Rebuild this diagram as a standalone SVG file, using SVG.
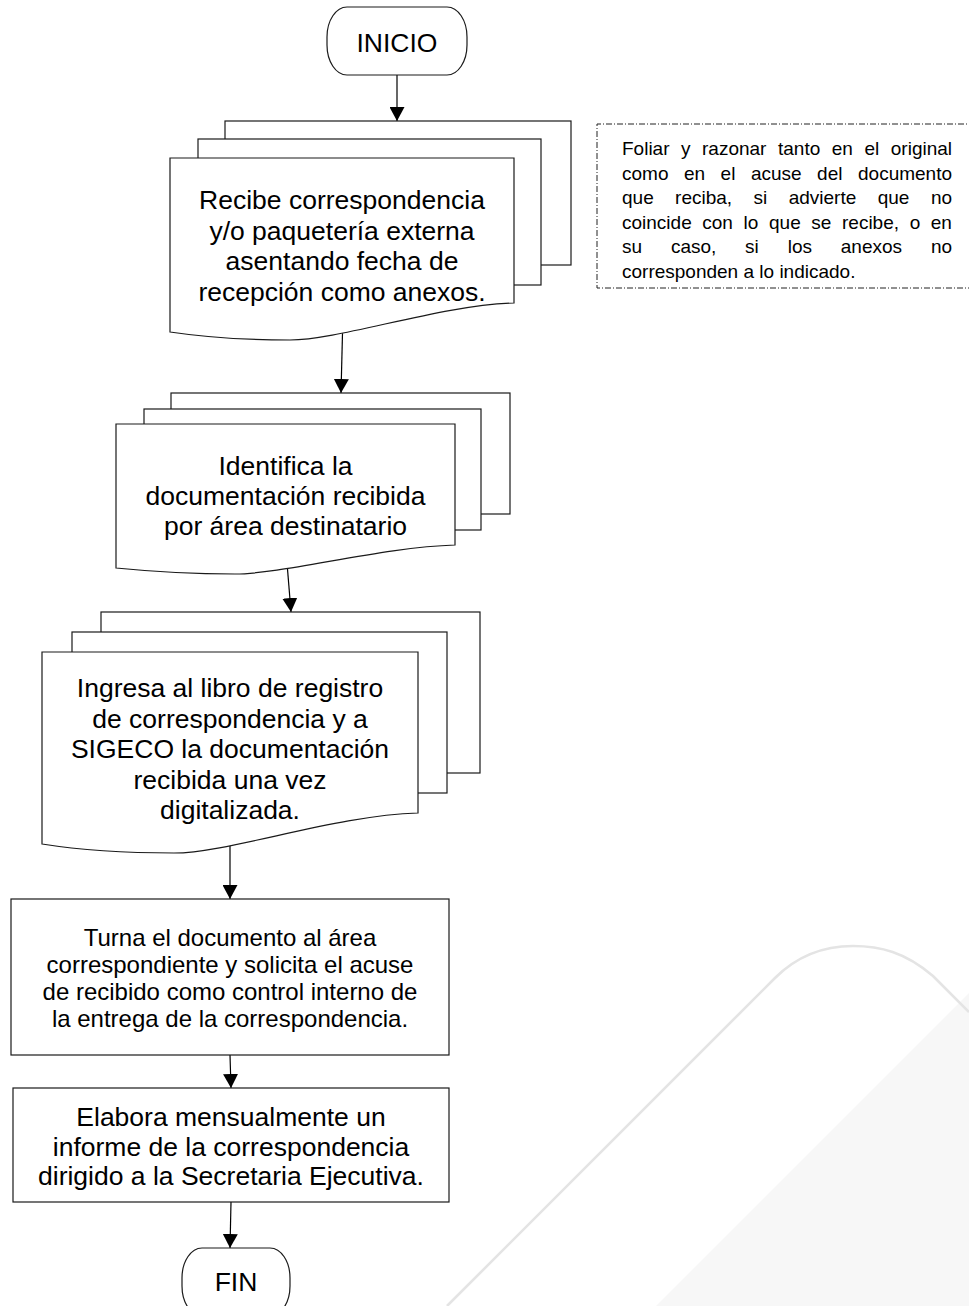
<svg xmlns="http://www.w3.org/2000/svg" width="969" height="1306" viewBox="0 0 969 1306">
<style>
.shape{fill:#fff;stroke:#1a1a1a;stroke-width:1.2}
.t{font-family:"Liberation Sans",Arial,sans-serif;font-size:26.5px;fill:#000;text-anchor:middle}
.t24{font-family:"Liberation Sans",Arial,sans-serif;font-size:24px;fill:#000;text-anchor:middle}
.n{font-family:"Liberation Sans",Arial,sans-serif;font-size:19px;fill:#000}
.conn{fill:none;stroke:#000;stroke-width:1.2}
.note{fill:none;stroke:#222;stroke-width:1;stroke-dasharray:6 2 1 2}
</style>
<defs>
<marker id="arrow" viewBox="0 0 14 15" refX="14" refY="7.5" markerWidth="14" markerHeight="15" markerUnits="userSpaceOnUse" orient="auto">
<path d="M0,0 L14,7.5 L0,15 Z" fill="#000"/>
</marker>
</defs>
<rect width="969" height="1306" fill="#fff"/>
<g id="watermark">
<path d="M656,1306 L957,1005 L969,993 L969,1306 Z" fill="#f7f7f7"/>
<path d="M447,1306 L775,978 C800,953 828,946 853,946 C880,946 905,952 933,976 L969,1012" fill="none" stroke="#e4e4e4" stroke-width="2.6"/>
</g>
<g id="connectors">
<line class="conn" x1="397" y1="75" x2="397" y2="121" marker-end="url(#arrow)"/>
<line class="conn" x1="342.5" y1="333" x2="341" y2="393" marker-end="url(#arrow)"/>
<line class="conn" x1="287.5" y1="569" x2="291" y2="612" marker-end="url(#arrow)"/>
<line class="conn" x1="230" y1="846" x2="230" y2="899" marker-end="url(#arrow)"/>
<line class="conn" x1="230" y1="1055" x2="231" y2="1088" marker-end="url(#arrow)"/>
<line class="conn" x1="231" y1="1202" x2="230" y2="1248" marker-end="url(#arrow)"/>
</g>
<g id="inicio">
<rect class="shape" x="327" y="7" width="140" height="68" rx="20" ry="30"/>
<text class="t" x="397" y="52">INICIO</text>
</g>
<g id="recibe">
<rect class="shape" x="225" y="121" width="346" height="144"/>
<rect class="shape" x="198" y="139" width="343" height="146"/>
<path class="shape" d="M170,158 H514 V303 C440,305 340,340 290,340 C250,340 210,338 170,332 Z"/>
<text class="t" x="342" y="209">Recibe correspondencia</text>
<text class="t" x="342" y="239.5">y/o paquetería externa</text>
<text class="t" x="342" y="270">asentando fecha de</text>
<text class="t" x="342" y="300.5">recepción como anexos.</text>
</g>
<g id="nota">
<path class="note" d="M975,124 H597 V288 H975"/>
<text class="n" y="155"><tspan x="622">Foliar</tspan><tspan x="681">y</tspan><tspan x="702">razonar</tspan><tspan x="778">tanto</tspan><tspan x="831.8">en</tspan><tspan x="864.5">el</tspan><tspan x="890.8">original</tspan></text>
<text class="n" y="179.5"><tspan x="622">como</tspan><tspan x="684">en</tspan><tspan x="720.6">el</tspan><tspan x="750.9">acuse</tspan><tspan x="817.1">del</tspan><tspan x="858">documento</tspan></text>
<text class="n" y="204"><tspan x="622">que</tspan><tspan x="675.1">reciba,</tspan><tspan x="753.6">si</tspan><tspan x="788.7">advierte</tspan><tspan x="877.7">que</tspan><tspan x="930.9">no</tspan></text>
<text class="n" y="228.5"><tspan x="622">coincide</tspan><tspan x="702.3">con</tspan><tspan x="743.6">lo</tspan><tspan x="769">que</tspan><tspan x="811.3">se</tspan><tspan x="842">recibe,</tspan><tspan x="909.7">o</tspan><tspan x="930.8">en</tspan></text>
<text class="n" y="253"><tspan x="622">su</tspan><tspan x="670.9">caso,</tspan><tspan x="745.1">si</tspan><tspan x="787.7">los</tspan><tspan x="840.8">anexos</tspan><tspan x="930.9">no</tspan></text>
<text class="n" x="622" y="277.5">corresponden a lo indicado.</text>
</g>
<g id="identifica">
<rect class="shape" x="171" y="393" width="339" height="121"/>
<rect class="shape" x="144" y="409" width="337" height="121"/>
<path class="shape" d="M116,424 H455 V545 C382,547 284,574 235,574 C196,574 156,572 116,568 Z"/>
<text class="t" x="285.5" y="475">Identifica la</text>
<text class="t" x="285.5" y="505">documentación recibida</text>
<text class="t" x="285.5" y="535">por área destinatario</text>
</g>
<g id="ingresa">
<rect class="shape" x="101" y="612" width="379" height="161"/>
<rect class="shape" x="72" y="632" width="375" height="161"/>
<path class="shape" d="M42,652 H418 V813 C337,815 228,853 174,853 C130,853 86,851 42,844 Z"/>
<text class="t" x="230" y="697">Ingresa al libro de registro</text>
<text class="t" x="230" y="727.5">de correspondencia y a</text>
<text class="t" x="230" y="758">SIGECO la documentación</text>
<text class="t" x="230" y="788.5">recibida una vez</text>
<text class="t" x="230" y="819">digitalizada.</text>
</g>
<g id="turna">
<rect class="shape" x="11" y="899" width="438" height="156"/>
<text class="t24" x="230" y="946">Turna el documento al área</text>
<text class="t24" x="230" y="973">correspondiente y solicita el acuse</text>
<text class="t24" x="230" y="1000">de recibido como control interno de</text>
<text class="t24" x="230" y="1027">la entrega de la correspondencia.</text>
</g>
<g id="elabora">
<rect class="shape" x="13" y="1088" width="436" height="114"/>
<text class="t" x="231" y="1126">Elabora mensualmente un</text>
<text class="t" x="231" y="1155.5">informe de la correspondencia</text>
<text class="t" x="231" y="1185">dirigido a la Secretaria Ejecutiva.</text>
</g>
<g id="fin">
<rect class="shape" x="182" y="1248" width="108" height="68" rx="20" ry="30"/>
<text class="t" x="236" y="1291">FIN</text>
</g>
</svg>
